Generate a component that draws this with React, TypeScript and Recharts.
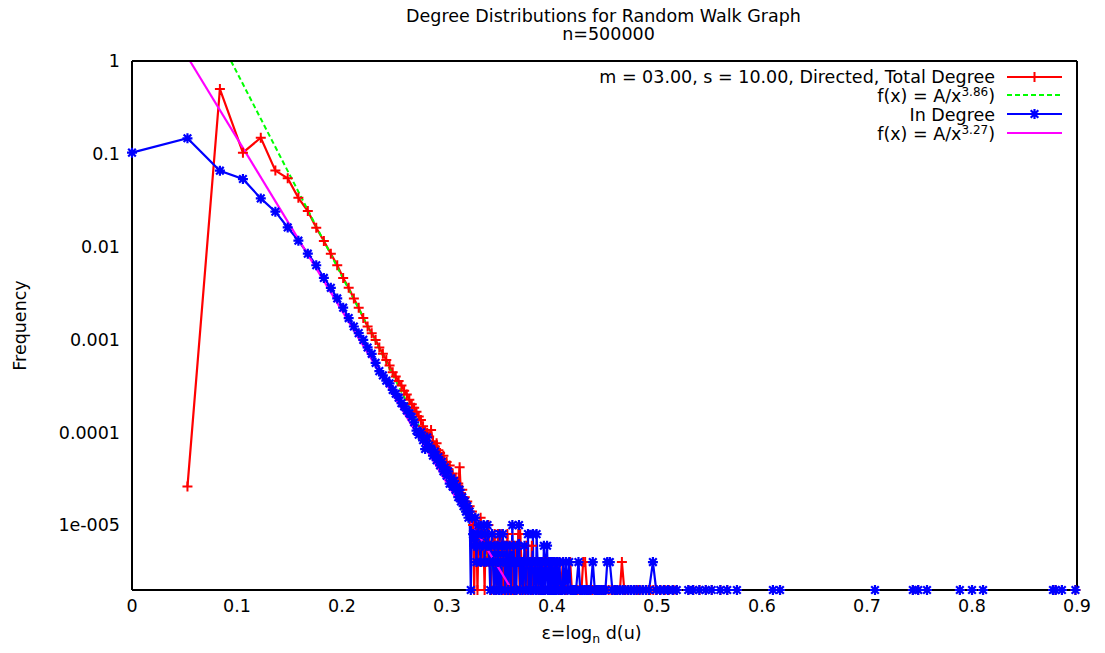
import React from 'react'
import { Label, Legend, Line, LineChart, XAxis, YAxis } from 'recharts'

const N = 500000

// [degree, number of nodes] (frequency = nodes / n)
const totalDegreeCounts: [number, number][] = [
  [2, 13], [3, 249500], [4, 51500], [5, 74500], [6, 33000], [7, 27250], [8, 16800], [9, 12100],
  [10, 8000], [11, 5750], [12, 4200], [13, 3150], [14, 2300], [15, 1800], [16, 1385], [17, 1100],
  [18, 850], [19, 690], [20, 585], [21, 495], [22, 410], [23, 350], [24, 300], [25, 262], [26, 222],
  [27, 200], [28, 178], [29, 160], [30, 140], [31, 128], [32, 112], [33, 100], [34, 92], [35, 83],
  [36, 74], [37, 68], [38, 58], [39, 52], [40, 49], [41, 45], [42, 53], [43, 40], [44, 35], [45, 38],
  [46, 32], [47, 30], [48, 26], [49, 28], [50, 22], [51, 24], [52, 20], [53, 22], [54, 17], [55, 18],
  [56, 15], [57, 16], [58, 13], [59, 14], [60, 21], [61, 11], [62, 12], [63, 9], [64, 10], [65, 8],
  [66, 9], [67, 7], [68, 8], [69, 6], [70, 7], [71, 5], [72, 1], [73, 6], [74, 5], [75, 1], [76, 4],
  [77, 3], [78, 6], [79, 2], [80, 4], [81, 3], [82, 1], [83, 4], [84, 2], [85, 3], [86, 5], [87, 2],
  [88, 3], [89, 1], [90, 4], [91, 3], [92, 2], [93, 4], [94, 1], [95, 3], [96, 2], [97, 4], [98, 1],
  [99, 2], [100, 3], [101, 2], [102, 4], [103, 1], [104, 3], [105, 2], [106, 3], [107, 1], [108, 2],
  [109, 4], [110, 2], [111, 3], [112, 1], [113, 2], [115, 3], [116, 2], [117, 1], [118, 2], [120, 3],
  [121, 1], [122, 2], [124, 2], [125, 4], [127, 1], [128, 4], [130, 2], [131, 1], [133, 2], [135, 2],
  [136, 1], [138, 3], [139, 2], [141, 1], [143, 2], [145, 2], [146, 1], [148, 3], [150, 1], [152, 2],
  [155, 2], [157, 1], [160, 2], [162, 1], [165, 2], [167, 1], [170, 2], [173, 1], [176, 2], [180, 2],
  [184, 1], [187, 2], [191, 1], [195, 2], [199, 1], [204, 2], [208, 1], [213, 1], [218, 2], [224, 1],
  [230, 1], [239, 2], [244, 1], [252, 1], [260, 1], [268, 1], [275, 1], [281, 2], [288, 2], [295, 1],
  [305, 1], [315, 1], [328, 1], [340, 1], [355, 1], [370, 1], [386, 1], [400, 1], [415, 1], [432, 1],
  [445, 1], [456, 2], [470, 1], [490, 1], [510, 1], [535, 1], [560, 1], [590, 1], [620, 1], [650, 1],
  [675, 1], [705, 1], [740, 1], [780, 1], [820, 1], [870, 1], [908, 1], [1048, 1], [1113, 1],
  [1203, 1], [1303, 1], [1403, 1], [1563, 1], [1703, 1], [1923, 1], [3013, 1], [3293, 1], [10783, 1],
  [17303, 1], [18503, 1], [20653, 1], [31153, 1], [36253, 1], [41603, 1], [99703, 1], [103003, 1],
  [111503, 1], [132003, 1],
]

const inDegreeCounts: [number, number][] = [
  [1, 51500], [2, 73500], [3, 32900], [4, 26750], [5, 16550], [6, 11900], [7, 8050], [8, 5800],
  [9, 4200], [10, 3150], [11, 2300], [12, 1800], [13, 1385], [14, 1100], [15, 850], [16, 690],
  [17, 585], [18, 495], [19, 410], [20, 350], [21, 280], [22, 228], [23, 205], [24, 180], [25, 168],
  [26, 143], [27, 130], [28, 118], [29, 103], [30, 95], [31, 86], [32, 80], [33, 73], [34, 64],
  [35, 52], [36, 47], [37, 50], [38, 41], [39, 33], [40, 44], [41, 36], [42, 33], [43, 28], [44, 31],
  [45, 25], [46, 27], [47, 22], [48, 24], [49, 19], [50, 21], [51, 17], [52, 19], [53, 14], [54, 16],
  [55, 13], [56, 15], [57, 12], [58, 13], [59, 10], [60, 12], [61, 9], [62, 10], [63, 8], [64, 9],
  [65, 7], [66, 8], [67, 6], [68, 7], [69, 1], [70, 6], [71, 4], [72, 3], [73, 6], [74, 2], [75, 4],
  [76, 5], [77, 3], [78, 2], [79, 4], [80, 3], [81, 5], [82, 2], [83, 4], [84, 3], [85, 5], [86, 3],
  [87, 2], [88, 1], [89, 3], [90, 4], [91, 2], [92, 1], [93, 3], [94, 2], [95, 1], [96, 3], [97, 2],
  [98, 1], [99, 4], [100, 2], [101, 1], [102, 3], [103, 4], [104, 2], [105, 3], [106, 1], [107, 2],
  [108, 3], [109, 2], [110, 1], [111, 2], [112, 3], [113, 2], [114, 1], [115, 2], [116, 5], [117, 2],
  [118, 3], [119, 1], [120, 2], [121, 2], [122, 1], [123, 3], [124, 2], [126, 5], [127, 2], [128, 1],
  [129, 2], [131, 2], [132, 1], [134, 2], [135, 3], [137, 1], [138, 2], [140, 2], [141, 4], [142, 1],
  [144, 2], [146, 1], [147, 2], [149, 2], [150, 4], [151, 1], [153, 2], [154, 2], [156, 1], [157, 4],
  [159, 2], [161, 1], [163, 2], [164, 2], [166, 1], [168, 2], [170, 1], [172, 3], [174, 2], [175, 1],
  [177, 2], [179, 3], [181, 1], [183, 2], [186, 1], [188, 2], [190, 1], [192, 2], [195, 1], [197, 2],
  [200, 1], [203, 2], [206, 1], [209, 2], [212, 1], [216, 1], [219, 2], [223, 1], [227, 2], [231, 1],
  [236, 2], [240, 1], [245, 1], [251, 1], [257, 1], [265, 2], [271, 1], [278, 1], [285, 1], [292, 1],
  [300, 1], [308, 1], [317, 2], [325, 1], [334, 1], [343, 1], [352, 1], [362, 1], [371, 1], [380, 2],
  [392, 2], [405, 1], [418, 1], [430, 1], [445, 1], [460, 1], [476, 1], [495, 1], [512, 1], [530, 1],
  [548, 1], [570, 1], [592, 1], [615, 1], [640, 1], [672, 2], [700, 1], [735, 1], [770, 1], [810, 1],
  [860, 1], [905, 1], [1045, 1], [1110, 1], [1200, 1], [1300, 1], [1400, 1], [1560, 1], [1700, 1],
  [1920, 1], [3010, 1], [3290, 1], [10780, 1], [17300, 1], [18500, 1], [20650, 1], [31150, 1],
  [36250, 1], [41600, 1], [99700, 1], [103000, 1], [111500, 1], [132000, 1],
]

// fitted power laws, drawn between the points where they cross the frame
const totalFitX = [0.0943, 0.354]
const totalFitY = [1, 0.000002]
const inFitX = [0.0552, 0.3619]
const inFitY = [1, 0.000002]

const xTicks = [0, 0.1, 0.2, 0.3, 0.4, 0.5, 0.6, 0.7, 0.8, 0.9]
const yTicks = [1, 0.1, 0.01, 0.001, 0.0001, 0.00001]
const yMinorTicks = [0.5, 0.2, 0.05, 0.02, 0.005, 0.002, 0.0005, 0.0002, 0.00005, 0.00002, 0.000005]

const FONT = '"DejaVu Sans", sans-serif'
const FS = 17.5
const X_DOMAIN: [number, number] = [0, 0.9]
const Y_DOMAIN: [number, number] = [0.000002, 1]

const toPoints = (rows: [number, number][]) =>
  rows.map(([d, c]) => ({ x: Math.log(d) / Math.log(N), y: c / N }))
const toLine = (xs: number[], ys: number[]) => xs.map((x, i) => ({ x, y: ys[i] }))

const totalData = toPoints(totalDegreeCounts)
const inData = toPoints(inDegreeCounts)
const totalFit = toLine(totalFitX, totalFitY)
const inFit = toLine(inFitX, inFitY)

const yTickLabel = (v: number) => (v === 0.00001 ? '1e-005' : String(v))

const plusPath = (cx: number, cy: number) => `M${cx - 5},${cy}h10M${cx},${cy - 5}v10`
const starPath = (cx: number, cy: number) =>
  `${plusPath(cx, cy)}M${cx - 3.8},${cy - 3.8}l7.6,7.6M${cx - 3.8},${cy + 3.8}l7.6,-7.6`

const PlusDot = (p: any) =>
  p.cx == null ? <g key={`t${p.index}`} /> : (
    <path key={`t${p.index}`} d={plusPath(p.cx, p.cy)} stroke="#ff0000" strokeWidth={2} fill="none" />
  )
const StarDot = (p: any) =>
  p.cx == null ? <g key={`i${p.index}`} /> : (
    <path key={`i${p.index}`} d={starPath(p.cx, p.cy)} stroke="#0000ff" strokeWidth={2.2} fill="none" />
  )

// key box, placed at page (570, 64)
function KeyBox() {
  return (
    <svg width={520} height={84} style={{ display: 'block', overflow: 'visible' }} fontFamily={FONT} fontSize={FS}>
      <text x={425} y={19} textAnchor="end" fill="#000">m = 03.00, s = 10.00, Directed, Total Degree</text>
      <line x1={437} x2={492} y1={13} y2={13} stroke="#ff0000" strokeWidth={2} />
      <path d={plusPath(464.5, 13)} stroke="#ff0000" strokeWidth={2} />
      <text x={425} y={38} textAnchor="end" fill="#000">
        f(x) = A/x<tspan dy={-6} fontSize={12}>3.86</tspan><tspan dy={6}>)</tspan>
      </text>
      <line x1={437} x2={492} y1={31} y2={31} stroke="#00ff00" strokeWidth={2} strokeDasharray="5 3" />
      <text x={425} y={57} textAnchor="end" fill="#000">In Degree</text>
      <line x1={437} x2={492} y1={50} y2={50} stroke="#0000ff" strokeWidth={2} />
      <path d={starPath(464.5, 50)} stroke="#0000ff" strokeWidth={2.2} />
      <text x={425} y={76} textAnchor="end" fill="#000">
        f(x) = A/x<tspan dy={-6} fontSize={12}>3.27</tspan><tspan dy={6}>)</tspan>
      </text>
      <line x1={437} x2={492} y1={69} y2={69} stroke="#ff00ff" strokeWidth={2} />
    </svg>
  )
}

const tickStroke = { stroke: '#000', strokeWidth: 1.5 }
const border = { stroke: '#000', strokeWidth: 2 }

export default function App() {
  return (
    <div style={{ position: 'absolute', left: 0, top: 0, width: 1105, height: 653, background: '#fff', fontFamily: FONT }}>
      <LineChart width={1105} height={653} margin={{ top: 61, right: 28, bottom: 33, left: 20 }}>
        <XAxis
          xAxisId="x" type="number" dataKey="x" domain={X_DOMAIN} ticks={xTicks} interval={0}
          height={30} tickSize={0} tickMargin={10} tickLine={false} axisLine={border}
          tick={{ fill: '#000', fontSize: FS, fontFamily: FONT }}
        >
          <Label
            content={(p: any) => (
              <text x={p.viewBox.x + p.viewBox.width / 2 - 13} y={p.viewBox.y + 49} textAnchor="middle"
                fontFamily={FONT} fontSize={FS} fill="#000">
                ε=log<tspan dy={4} fontSize={12.5}>n</tspan><tspan dy={-4}> d(u)</tspan>
              </text>
            )}
          />
        </XAxis>
        <XAxis xAxisId="xb" type="number" domain={X_DOMAIN} allowDataOverflow ticks={xTicks} interval={0}
          orientation="bottom" mirror height={1} tick={false} tickSize={8} tickLine={tickStroke} axisLine={false} />
        <XAxis xAxisId="xt" type="number" domain={X_DOMAIN} allowDataOverflow ticks={xTicks} interval={0}
          orientation="top" mirror height={1} tick={false} tickSize={8} tickLine={tickStroke} axisLine={border} />

        <YAxis
          yAxisId="y" type="number" scale="log" domain={Y_DOMAIN} ticks={yTicks} interval={0}
          width={112} tickSize={0} tickMargin={12} tickLine={false} axisLine={border}
          tickFormatter={yTickLabel} tick={{ fill: '#000', fontSize: FS, fontFamily: FONT }}
        >
          <Label
            content={(p: any) => {
              const cx = p.viewBox.x
              const cy = p.viewBox.y + p.viewBox.height / 2
              return (
                <text x={cx} y={cy} transform={`rotate(-90 ${cx} ${cy})`} textAnchor="middle"
                  dominantBaseline="central" fontFamily={FONT} fontSize={FS} fill="#000">
                  Frequency
                </text>
              )
            }}
          />
        </YAxis>
        <YAxis yAxisId="yl" type="number" scale="log" domain={Y_DOMAIN} allowDataOverflow ticks={yTicks} interval={0}
          orientation="left" mirror width={1} tick={false} tickSize={8} tickLine={tickStroke} axisLine={false} />
        <YAxis yAxisId="ylm" type="number" scale="log" domain={Y_DOMAIN} allowDataOverflow ticks={yMinorTicks} interval={0}
          orientation="left" mirror width={1} tick={false} tickSize={4} tickLine={tickStroke} axisLine={false} />
        <YAxis yAxisId="yr" type="number" scale="log" domain={Y_DOMAIN} allowDataOverflow ticks={yTicks} interval={0}
          orientation="right" mirror width={1} tick={false} tickSize={8} tickLine={tickStroke} axisLine={border} />
        <YAxis yAxisId="yrm" type="number" scale="log" domain={Y_DOMAIN} allowDataOverflow ticks={yMinorTicks} interval={0}
          orientation="right" mirror width={1} tick={false} tickSize={4} tickLine={tickStroke} axisLine={false} />

        <Line xAxisId="x" yAxisId="y" data={totalData} dataKey="y" type="linear" stroke="#ff0000"
          strokeWidth={2.2} dot={PlusDot} activeDot={false} isAnimationActive={false} />
        <Line xAxisId="x" yAxisId="y" data={totalFit} dataKey="y" type="linear" stroke="#00ff00"
          strokeWidth={2} strokeDasharray="5 3" dot={false} activeDot={false} isAnimationActive={false} />
        <Line xAxisId="x" yAxisId="y" data={inData} dataKey="y" type="linear" stroke="#0000ff"
          strokeWidth={2.2} dot={StarDot} activeDot={false} isAnimationActive={false} />
        <Line xAxisId="x" yAxisId="y" data={inFit} dataKey="y" type="linear" stroke="#ff00ff"
          strokeWidth={2.2} dot={false} activeDot={false} isAnimationActive={false} />

        <Legend
          layout="horizontal" verticalAlign="middle" align="center" content={KeyBox}
          wrapperStyle={{ top: 64, left: 570, width: 520, height: 84 }}
        />
      </LineChart>
      <svg width={1105} height={50} style={{ position: 'absolute', left: 0, top: 0, pointerEvents: 'none' }}
        fontFamily={FONT} fontSize={FS} fill="#000">
        <text x={603.5} y={22} textAnchor="middle">Degree Distributions for Random Walk Graph</text>
        <text x={608.5} y={40} textAnchor="middle">n=500000</text>
      </svg>
    </div>
  )
}
